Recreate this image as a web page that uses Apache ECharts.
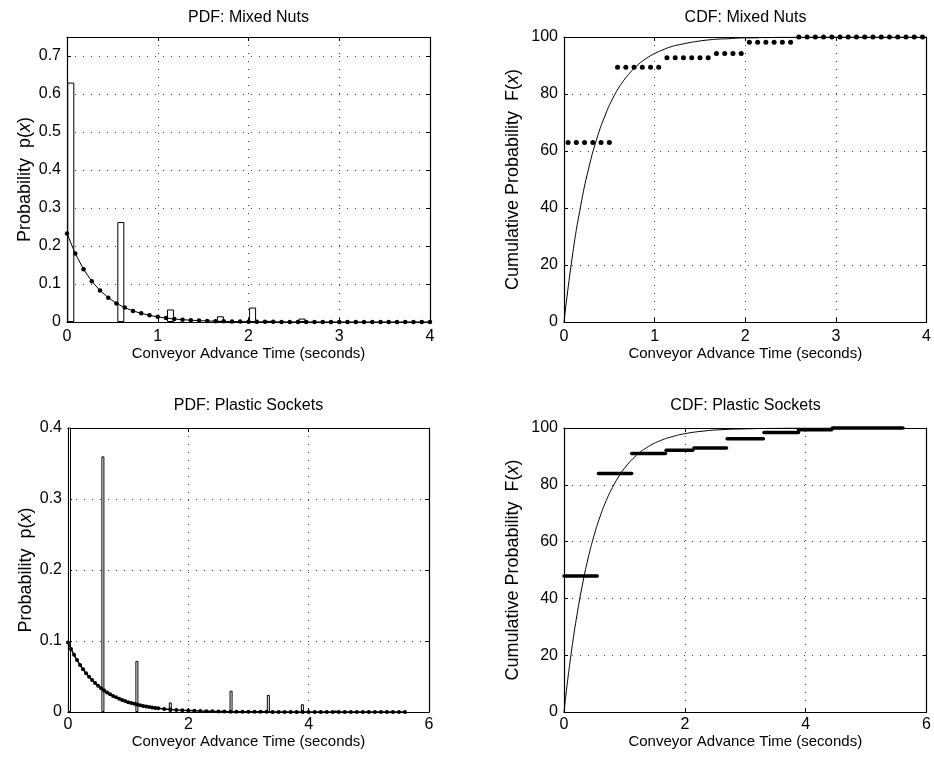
<!DOCTYPE html>
<html>
<head>
<meta charset="utf-8">
<script src="https://cdn.jsdelivr.net/npm/echarts@6/dist/echarts.min.js"></script>
<style>
  html, body { margin: 0; padding: 0; background: #fff; }
  #chart { width: 934px; height: 765px; }
</style>
</head>
<body>
<div id="chart"></div>
<script>
// ---- Mixed nuts ----
const nutsBarX = [0.042, 0.593, 1.14, 1.69, 2.045, 2.235, 2.59];
const nutsBarP = [0.63, 0.263, 0.033, 0.015, 0.038, 0.003, 0.009];

const nutsFitX = [0, 0.091, 0.182, 0.273, 0.364, 0.455, 0.545, 0.636, 0.727, 0.818, 0.909, 1.0,
  1.091, 1.182, 1.273, 1.364, 1.455, 1.545, 1.636, 1.727, 1.818, 1.909, 2.0, 2.091, 2.182, 2.273,
  2.364, 2.455, 2.545, 2.636, 2.727, 2.818, 2.909, 3.0, 3.091, 3.182, 3.273, 3.364, 3.455, 3.545,
  3.636, 3.727, 3.818, 3.909, 4.0];
const nutsFitP = [0.233, 0.180, 0.139, 0.107, 0.083, 0.064, 0.049, 0.038, 0.029, 0.023, 0.0175, 0.0135,
  0.0104, 0.008, 0.0062, 0.0048, 0.0037, 0.0028, 0.0022, 0.0017, 0.0013, 0.001, 0.0008, 0.0006, 0.0005,
  0.0004, 0.0003, 0.0002, 0.0002, 0.0001, 0.0001, 0.0001, 0.0001, 0, 0, 0, 0, 0, 0, 0, 0, 0, 0, 0, 0];
const nutsFitF = [0, 22.8, 40.4, 54.0, 64.5, 72.6, 78.9, 83.7, 87.4, 90.3, 92.5, 94.2, 95.5, 96.6,
  97.3, 97.9, 98.4, 98.8, 99.1, 99.3, 99.4, 99.6, 99.7, 99.7, 99.8, 99.8, 99.9, 99.9, 99.9, 99.9,
  100, 100, 100, 100, 100, 100, 100, 100, 100, 100, 100, 100, 100, 100, 100];

const nutsStepX = [0.045, 0.136, 0.227, 0.318, 0.409, 0.5, 0.591, 0.682, 0.773, 0.864, 0.955, 1.045,
  1.136, 1.227, 1.318, 1.409, 1.5, 1.591, 1.682, 1.773, 1.864, 1.955, 2.045, 2.136, 2.227, 2.318,
  2.409, 2.5, 2.591, 2.682, 2.773, 2.864, 2.955, 3.045, 3.136, 3.227, 3.318, 3.409, 3.5, 3.591,
  3.682, 3.773, 3.864, 3.955];
const nutsStepF = [63, 63, 63, 63, 63, 63, 89.4, 89.4, 89.4, 89.4, 89.4, 89.4,
  92.7, 92.7, 92.7, 92.7, 92.7, 92.7, 94.2, 94.2, 94.2, 94.2, 98.2, 98.2, 98.2, 98.2, 98.2, 98.2,
  100, 100, 100, 100, 100, 100, 100, 100, 100, 100, 100, 100, 100, 100, 100, 100];

// ---- Plastic sockets ----
const sockBarX = [0.025, 0.58, 1.145, 1.70, 2.71, 3.33, 3.895, 4.45];
const sockBarP = [0.479, 0.36, 0.072, 0.0135, 0.030, 0.024, 0.011, 0.002];

const sockFitX = [0, 0.05, 0.1, 0.15, 0.2, 0.25, 0.3, 0.35, 0.4, 0.45, 0.5, 0.55, 0.6, 0.65, 0.7,
  0.75, 0.8, 0.85, 0.9, 0.95, 1.0, 1.05, 1.1, 1.15, 1.2, 1.25, 1.3, 1.35, 1.4, 1.45, 1.5,
  1.6, 1.7, 1.8, 1.9, 2.0, 2.1, 2.2, 2.3, 2.4, 2.5, 2.6, 2.7, 2.8, 2.9, 3.0, 3.1, 3.2, 3.3, 3.4,
  3.5, 3.6, 3.7, 3.8, 3.9, 4.0, 4.1, 4.2, 4.3, 4.4, 4.5, 4.6, 4.7, 4.8, 4.9, 5.0, 5.1, 5.2, 5.3,
  5.4, 5.5, 5.6];
const sockFitP = [0.098, 0.0889, 0.0806, 0.0731, 0.0663, 0.0602, 0.0546, 0.0495, 0.0449, 0.0408,
  0.0370, 0.0335, 0.0304, 0.0276, 0.0250, 0.0227, 0.0206, 0.0187, 0.0169, 0.0154, 0.0139, 0.0126,
  0.0115, 0.0104, 0.0094, 0.0086, 0.0078, 0.0070, 0.0064, 0.0058, 0.0053,
  0.0043, 0.0036, 0.0029, 0.0024, 0.0020, 0.0016, 0.0013, 0.0011, 0.0009, 0.0008, 0.0006, 0.0005,
  0.0004, 0.0003, 0.0003, 0.0002, 0.0002, 0.0002, 0.0001, 0.0001, 0.0001, 0.0001, 0.0001, 0.0001,
  0, 0, 0, 0, 0, 0, 0, 0, 0, 0, 0, 0, 0, 0, 0, 0, 0];

const sockCdfX = [0, 0.05, 0.1, 0.15, 0.2, 0.3, 0.4, 0.5, 0.6, 0.7, 0.8, 0.9, 1.0, 1.2, 1.4, 1.6,
  1.8, 2.0, 2.3, 2.6, 3.0, 3.5, 4.0, 4.5, 5.0, 5.6];
const sockCdfF = [0, 9.3, 17.7, 25.4, 32.3, 44.3, 54.2, 62.3, 69.0, 74.5, 79.0, 82.7, 85.8, 90.4,
  93.5, 95.6, 97.0, 98.0, 98.9, 99.4, 99.7, 99.9, 100, 100, 100, 100];

const sockStepStart = [0, 0.57, 1.12, 1.69, 2.15, 2.70, 3.31, 3.88, 4.44];
const sockStepEnd = [0.55, 1.12, 1.68, 2.13, 2.69, 3.30, 3.88, 4.43, 5.61];
const sockStepF = [47.9, 84.0, 91.0, 92.2, 93.0, 96.2, 98.4, 99.4, 100];

const titles = ['PDF: Mixed Nuts', 'CDF: Mixed Nuts', 'PDF: Plastic Sockets', 'CDF: Plastic Sockets'];
const xName = 'Conveyor Advance Time (seconds)';

const FONT = '"Liberation Sans", Arial, Helvetica, sans-serif';
const grids = [
  { left: 67, top: 37, width: 363, height: 285 },
  { left: 564, top: 37, width: 363, height: 285 },
  { left: 68, top: 428, width: 361, height: 284 },
  { left: 564, top: 428, width: 363, height: 284 }
];

function zip(xs, ys) { return xs.map((x, i) => [x, ys[i]]); }

const frameLine = { show: true, onZero: false, lineStyle: { color: '#000', width: 1.2 } };
const tick = { show: true, inside: true, length: 4, lineStyle: { color: '#000' } };
const grid_line = { show: true, lineStyle: { color: '#444', width: 1, type: [1, 7] } };

function mainX(i, max, interval, margin, gap) {
  return {
    type: 'value', gridIndex: i, min: 0, max: max, interval: interval, position: 'bottom',
    name: xName, nameLocation: 'middle', nameGap: gap,
    nameTextStyle: { color: '#000', fontSize: 15, fontFamily: FONT },
    axisLine: frameLine, axisTick: tick, splitLine: grid_line,
    axisLabel: { color: '#000', fontSize: 16, fontFamily: FONT, margin: margin }
  };
}
function frameX(i, max, interval) {
  return {
    type: 'value', gridIndex: i, min: 0, max: max, interval: interval, position: 'top',
    axisLine: frameLine, axisTick: tick, axisLabel: { show: false }, splitLine: { show: false }
  };
}
function mainY(i, max, interval, name, gap, hideMax) {
  return {
    type: 'value', gridIndex: i, min: 0, max: max, interval: interval, position: 'left',
    name: name, nameLocation: 'middle', nameGap: gap, nameRotate: 90,
    nameTextStyle: {
      color: '#000', fontSize: 18, fontFamily: FONT,
      rich: { i: { fontStyle: 'italic', fontSize: 18, fontFamily: FONT, color: '#000' } }
    },
    axisLine: frameLine, axisTick: tick, splitLine: grid_line,
    axisLabel: { color: '#000', fontSize: 16, fontFamily: FONT, margin: 6, showMaxLabel: !hideMax }
  };
}
function frameY(i, max, interval) {
  return {
    type: 'value', gridIndex: i, min: 0, max: max, interval: interval, position: 'right',
    axisLine: frameLine, axisTick: tick, axisLabel: { show: false }, splitLine: { show: false }
  };
}

const barStyle = { color: '#fff', borderColor: '#000', borderWidth: 1 };

const series = [
  { type: 'bar', xAxisIndex: 0, yAxisIndex: 0, data: zip(nutsBarX, nutsBarP), barWidth: 7, itemStyle: barStyle },
  { type: 'line', xAxisIndex: 0, yAxisIndex: 0, data: zip(nutsFitX, nutsFitP), symbol: 'circle', symbolSize: 4.5,
    showAllSymbol: true, lineStyle: { color: '#000', width: 1 }, itemStyle: { color: '#000' } },

  { type: 'line', xAxisIndex: 1, yAxisIndex: 1, data: zip(nutsFitX, nutsFitF), smooth: true, symbol: 'none',
    lineStyle: { color: '#000', width: 1 } },
  { type: 'scatter', xAxisIndex: 1, yAxisIndex: 1, data: zip(nutsStepX, nutsStepF), symbolSize: 5,
    clip: false, itemStyle: { color: '#000', opacity: 1 } },

  { type: 'bar', xAxisIndex: 2, yAxisIndex: 2, data: zip(sockBarX, sockBarP), barWidth: 3, itemStyle: barStyle },
  { type: 'line', xAxisIndex: 2, yAxisIndex: 2, data: zip(sockFitX, sockFitP), symbol: 'circle', symbolSize: 4,
    showAllSymbol: true, lineStyle: { color: '#000', width: 1.5 }, itemStyle: { color: '#000' } },

  { type: 'line', xAxisIndex: 3, yAxisIndex: 3, data: zip(sockCdfX, sockCdfF), smooth: true, symbol: 'none',
    lineStyle: { color: '#000', width: 1 } }
].concat(sockStepStart.map((s, i) => ({
  type: 'line', xAxisIndex: 3, yAxisIndex: 3, symbol: 'none', clip: false,
  data: [[s, sockStepF[i]], [sockStepEnd[i], sockStepF[i]]],
  lineStyle: { color: '#000', width: 3.5, cap: 'round' }
})));

const titleY = [18, 18, 406, 406];
const graphic = titles.map((t, i) => ({
  type: 'text', x: grids[i].left + grids[i].width / 2, y: titleY[i],
  style: { text: t, textAlign: 'center', textVerticalAlign: 'middle', verticalAlign: 'middle',
    fontSize: 16, fontFamily: FONT, fill: '#000' }
}));

const chart = echarts.init(document.getElementById('chart'));
chart.setOption({
  animation: false,
  backgroundColor: '#fff',
  grid: grids,
  graphic: graphic,
  xAxis: [mainX(0, 4, 1, 7, 21), mainX(1, 4, 1, 7, 21), mainX(2, 6, 2, 5, 16), mainX(3, 6, 2, 5, 16),
    frameX(0, 4, 1), frameX(1, 4, 1), frameX(2, 6, 2), frameX(3, 6, 2)],
  yAxis: [
    mainY(0, 0.75, 0.1, 'Probability  p({i|x})', 33, true),
    mainY(1, 100, 20, 'Cumulative Probability  F({i|x})', 42, false),
    mainY(2, 0.4, 0.1, 'Probability  p({i|x})', 33, false),
    mainY(3, 100, 20, 'Cumulative Probability  F({i|x})', 42, false),
    frameY(0, 0.75, 0.1), frameY(1, 100, 20), frameY(2, 0.4, 0.1), frameY(3, 100, 20)
  ],
  series: series
});
</script>
</body>
</html>
